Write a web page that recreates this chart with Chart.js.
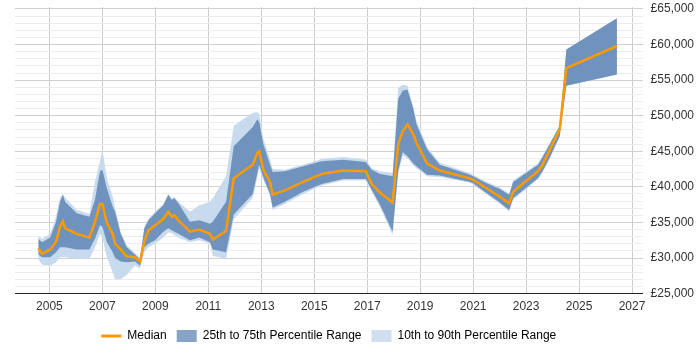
<!DOCTYPE html>
<html>
<head>
<meta charset="utf-8">
<script src="https://cdn.jsdelivr.net/npm/chart.js@4.4.1/dist/chart.umd.min.js"></script>
<style>
body { margin: 0; background: #fff; }
#wrap { width: 700px; height: 350px; }
</style>
</head>
<body>
<div id="wrap"><canvas id="salaryChart" width="700" height="350"></canvas></div>
<script>
// sample dates (decimal years)
const years = [2004.58, 2004.72, 2005.03, 2005.25, 2005.40, 2005.51, 2005.59, 2006.03, 2006.51, 2006.72,
        2006.91, 2007.00, 2007.17, 2007.39, 2007.48, 2007.69, 2007.92, 2008.23, 2008.42, 2008.58,
        2008.74, 2008.99, 2009.30, 2009.49, 2009.62, 2009.72, 2009.87, 2010.31, 2010.66, 2011.06,
        2011.17, 2011.67, 2011.96, 2012.68, 2012.85, 2012.92, 2013.08, 2013.33, 2013.43, 2013.89,
        2014.58, 2015.28, 2016.09, 2016.95, 2017.17, 2017.48, 2017.96, 2018.17, 2018.34, 2018.52,
        2018.74, 2018.86, 2019.26, 2019.74, 2020.88, 2021.00, 2021.51, 2022.01, 2022.36, 2022.51,
        2023.45, 2023.62, 2023.89, 2024.27, 2024.52, 2026.43];

const median = [31400, 30600, 31200, 32300, 34400, 35200, 34200, 33400, 32900, 35100,
        37600, 37600, 34900, 33400, 32000, 31200, 30200, 30100, 29500, 32300,
        33900, 34600, 35500, 36500, 35800, 36000, 35300, 33700, 34000, 33400,
        32600, 33800, 41200, 43100, 44800, 45000, 42400, 40700, 38900, 39500,
        40700, 41800, 42300, 42200, 40400, 39200, 37800, 46000, 47800, 48800,
        47400, 46200, 43300, 42300, 41200, 41000, 39800, 38600, 37700, 39300,
        42200, 43100, 45200, 48100, 56700, 59800];

const p75 = [32700, 32200, 32900, 35100, 37900, 38900, 37900, 36300, 35800, 38200,
        42200, 42400, 39800, 37200, 36500, 33400, 31500, 30500, 29800, 34100,
        35300, 36300, 37400, 38900, 38200, 38400, 37700, 35100, 35300, 34800,
        35100, 37900, 45700, 48400, 49500, 49100, 46000, 43100, 42100, 42200,
        42900, 43600, 43800, 43500, 42400, 41800, 41500, 52400, 53500, 53700,
        51000, 48800, 45300, 43100, 41700, 41500, 40500, 39700, 38900, 40700,
        43100, 44200, 46000, 48600, 59300, 63700];

const p25 = [30500, 30100, 30100, 30800, 31500, 31500, 31500, 31200, 31200, 32700,
        34600, 34400, 32200, 30800, 30000, 29500, 29400, 29500, 28900, 31500,
        32000, 32500, 33700, 34200, 33900, 33700, 33400, 32500, 32900, 32200,
        31200, 30800, 36100, 39000, 41900, 43100, 41300, 39000, 37100, 37900,
        39300, 40400, 41100, 41100, 39600, 37500, 33700, 42200, 44900, 44300,
        43300, 42900, 41700, 41600, 40700, 40500, 39100, 37800, 36700, 38400,
        41200, 42200, 44100, 47100, 54200, 55800];

const p90 = [33100, 32700, 33400, 35900, 38500, 39000, 38500, 36800, 36200, 40700,
        43600, 45200, 41200, 38600, 37000, 33700, 31800, 30700, 30000, 34400,
        35500, 36500, 37600, 39000, 38300, 38600, 37900, 36500, 37400, 37900,
        38400, 41500, 48600, 50400, 50500, 50300, 46700, 43900, 42500, 42400,
        43100, 43900, 44200, 43800, 42600, 42200, 41900, 53900, 54400, 54200,
        51200, 49300, 45600, 43400, 41900, 41700, 40700, 39900, 39000, 40900,
        43300, 44300, 46100, 48600, 59300, 63700];

const p10 = [29800, 29100, 28900, 29400, 30100, 30100, 30100, 29900, 29900, 31500,
        33400, 32900, 30100, 28000, 27000, 27000, 27600, 29000, 28500, 30800,
        31500, 32000, 32900, 33600, 33500, 33200, 32900, 32200, 32500, 32000,
        30300, 29900, 35400, 38500, 41300, 42600, 41000, 38800, 36800, 37600,
        39000, 40200, 40900, 40900, 39300, 37200, 33200, 41900, 44400, 44000,
        43000, 42600, 41500, 41400, 40600, 40300, 39000, 37600, 36600, 38200,
        41100, 42000, 43900, 47100, 54200, 55800];

const yearTicks = [2005, 2007, 2009, 2011, 2013, 2015, 2017, 2019, 2021, 2023, 2025, 2027];
const salaryTicks = [25000, 30000, 35000, 40000, 45000, 50000, 55000, 60000, 65000];

const orange = '#ff9900';
const darkBand = '#6f93bd';
const lightBand = '#c8daed';

function pts(values) {
        return years.map((yr, i) => ({x: yr, y: values[i]}));
}

function band(values, color, target) {
        return {
                data: pts(values),
                borderWidth: 0,
                pointRadius: 0,
                backgroundColor: color,
                fill: target
        };
}

// centre the legend under the plot area instead of the whole canvas
const legendUnderPlot = {
        id: 'legendUnderPlot',
        afterLayout(chart) {
                const a = chart.chartArea, lg = chart.legend;
                const shift = (a.left + a.right) / 2 - (lg.left + lg.right) / 2;
                lg.left += shift;
                lg.right += shift;
        }
};

Chart.defaults.font.family = '"Liberation Sans", Arial, sans-serif';
Chart.defaults.font.size = 12;
Chart.defaults.color = '#333';

let ctx = document.getElementById('salaryChart').getContext('2d');

new Chart(ctx, {
        type: 'line',
        data: {
                datasets: [
                        {label: 'Median', data: pts(median), borderColor: orange, borderWidth: 2.5, pointRadius: 0, fill: false},
                        band(p75, darkBand, 2),
                        band(p25, darkBand, false),
                        band(p90, lightBand, 4),
                        band(p10, lightBand, false)
                ]
        },
        options: {
                responsive: false,
                animation: false,
                layout: {padding: {left: 15, top: 5, right: 6, bottom: -2}},
                plugins: {
                        tooltip: {enabled: false},
                        legend: {
                                position: 'bottom',
                                labels: {
                                        usePointStyle: true,
                                        pointStyleWidth: 20,
                                        boxHeight: 12,
                                        padding: 10,
                                        generateLabels: () => [
                                                {text: 'Median', pointStyle: 'line', strokeStyle: orange, fillStyle: orange, lineWidth: 3},
                                                {text: '25th to 75th Percentile Range', pointStyle: 'rect', fillStyle: '#87a4c6', strokeStyle: '#87a4c6', lineWidth: 0},
                                                {text: '10th to 90th Percentile Range', pointStyle: 'rect', fillStyle: '#cfdfef', strokeStyle: '#cfdfef', lineWidth: 0}
                                        ]
                                }
                        }
                },
                scales: {
                        x: {
                                type: 'linear',
                                min: 2003.70,
                                max: 2027.40,
                                afterBuildTicks: axis => { axis.ticks = yearTicks.map(v => ({value: v})); },
                                ticks: {padding: 6, maxRotation: 0, autoSkip: false, callback: v => String(v)},
                                grid: {color: '#cccccc', drawTicks: false},
                                border: {color: '#222', width: 1}
                        },
                        y: {
                                position: 'right',
                                min: 25000,
                                max: 65250,
                                afterBuildTicks: axis => {
                                        let t = [];
                                        for (let v = salaryTicks[0]; v <= salaryTicks[salaryTicks.length - 1]; v += 1000) t.push({value: v});
                                        axis.ticks = t;
                                },
                                ticks: {
                                        padding: 0,
                                        autoSkip: false,
                                        callback: v => salaryTicks.includes(v) ? '£' + v.toLocaleString('en-GB') : ''
                                },
                                grid: {
                                        drawTicks: true,
                                        tickLength: 8,
                                        tickColor: 'rgba(0,0,0,0)',
                                        color: c => (c.tick && salaryTicks.includes(c.tick.value)) ? '#d0d0d0' : '#ececec'
                                },
                                border: {display: false}
                        }
                }
        },
        plugins: [legendUnderPlot]
});
</script>
</body>
</html>
